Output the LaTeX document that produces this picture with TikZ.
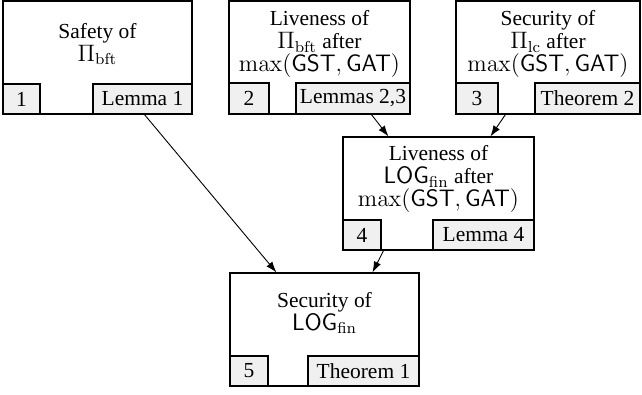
\documentclass[tikz,border=0pt]{standalone}
\usepackage{graphicx}
\usepackage[no-math]{fontspec}
\setmainfont{Liberation Serif}
\usetikzlibrary{fit,calc,arrows.meta}
\newcommand{\mymath}[1]{\scalebox{1.09}{$#1$}}
\begin{document}
\begin{tikzpicture}[x=0.55pt,y=-0.55pt,
  font=\fontsize{11.8pt}{12.6pt}\selectfont,
  box/.style={draw, line width=0.6pt, inner sep=0pt},
  cell/.style={draw, fill=gray!12, line width=0.6pt, inner sep=0pt},
  txt/.style={align=center, inner sep=0pt},
  lab/.style={inner sep=0pt},
  arr/.style={-{Latex[length=6pt,width=4.2pt]}, line width=0.5pt}]
\useasboundingbox (0,0) rectangle (642,394);
% box 1
\node[box, fit={(3,1) (192,114)}] (b1) {};
\node[cell, fit={(3,84) (40,114)}] (n1) {};
\node[cell, fit={(93,84) (192,114)}] (r1) {};
\node[lab] at (n1.center) {1};
\node[lab] at (r1.center) {Lemma 1};
\node[txt] (t1) at (97.5,44) {Safety of\\\mymath{\Pi_{\mathrm{bft}}}};
% box 2
\node[box, fit={(229,1) (410,114)}] (b2) {};
\node[cell, fit={(229,83) (269,114)}] (n2) {};
\node[cell, fit={(296,83) (410,114)}] (r2) {};
\node[lab] at (n2.center) {2};
\node[lab] at (r2.center) {Lemmas 2,3};
\node[txt] (t2) at (319.5,44) {Liveness of\\\mymath{\Pi_{\mathrm{bft}}} after\\\mymath{\max(\mathsf{GST},\mathsf{GAT})}};
% box 3
\node[box, fit={(456,1) (640,114)}] (b3) {};
\node[cell, fit={(456,83) (498,114)}] (n3) {};
\node[cell, fit={(535,83) (640,114)}] (r3) {};
\node[lab] at (n3.center) {3};
\node[lab] at (r3.center) {Theorem 2};
\node[txt] (t3) at (548,44) {Security of\\\mymath{\Pi_{\mathrm{lc}}} after\\\mymath{\max(\mathsf{GST},\mathsf{GAT})}};
% box 4
\node[box, fit={(343,137) (534,250)}] (b4) {};
\node[cell, fit={(343,220) (381,250)}] (n4) {};
\node[cell, fit={(433,220) (534,250)}] (r4) {};
\node[lab] at (n4.center) {4};
\node[lab] at (r4.center) {Lemma 4};
\node[txt] (t4) at (438.5,179) {Liveness of\\\mymath{\mathsf{LOG}_{\mathrm{fin}}} after\\\mymath{\max(\mathsf{GST},\mathsf{GAT})}};
% box 5
\node[box, fit={(230,273) (419,386)}] (b5) {};
\node[cell, fit={(230,356) (268,386)}] (n5) {};
\node[cell, fit={(308,356) (419,386)}] (r5) {};
\node[lab] at (n5.center) {5};
\node[lab] at (r5.center) {Theorem 1};
\node[txt] (t5) at (324.5,313) {Security of\\\mymath{\mathsf{LOG}_{\mathrm{fin}}}};
% arrows
\draw[arr] ($(r1.south west)+(52,0)$) -- ($(b5.north west)+(47,0)$);
\draw[arr] ($(r2.south west)+(76,0)$) -- ($(b4.north west)+(46,0)$);
\draw[arr] ($(b3.south west)+(50,0)$) -- ($(b4.north west)+(148,0)$);
\draw[arr] ($(n4.south east)+(2,0)$) -- ($(b5.north west)+(143,0)$);
\end{tikzpicture}
\end{document}
